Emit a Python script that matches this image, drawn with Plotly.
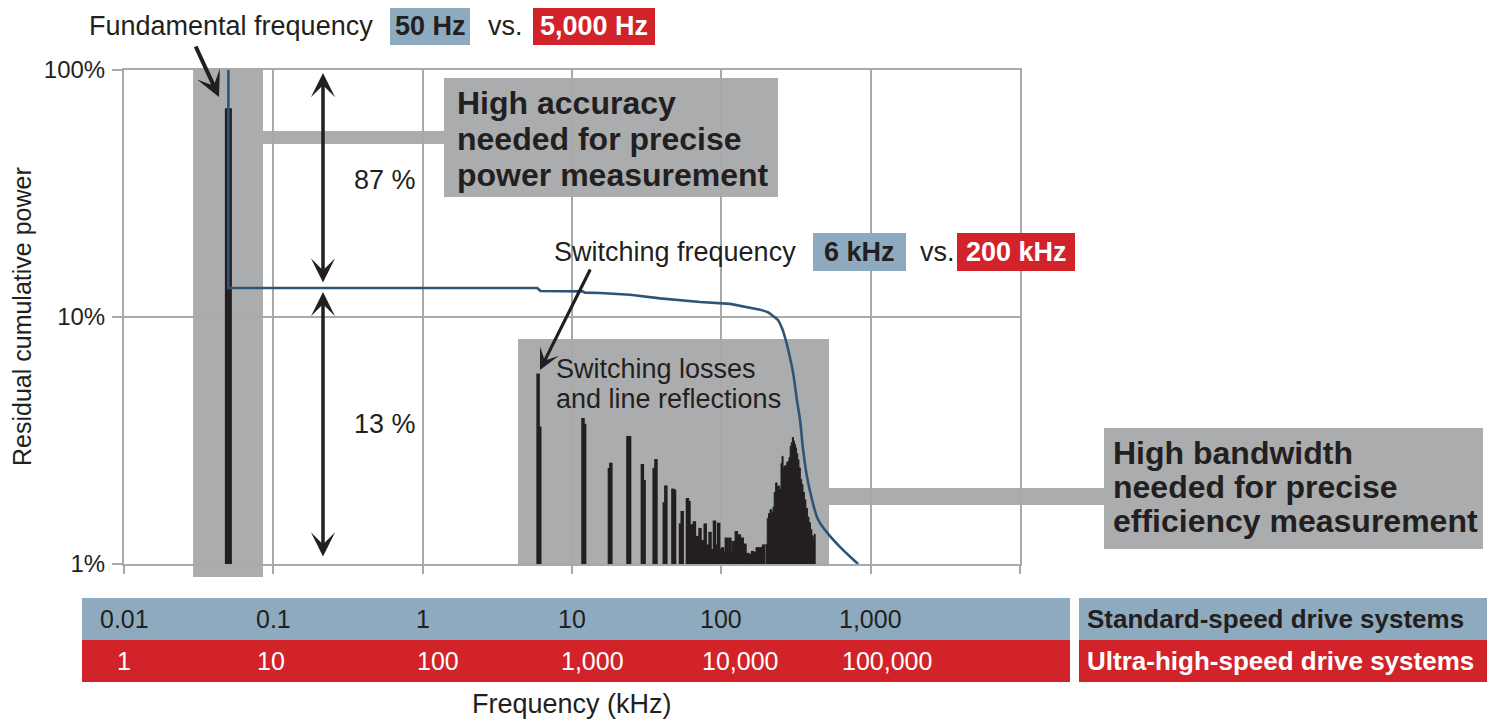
import math
import plotly.graph_objects as go

# ---------------- data ----------------
decades_khz = [0.01, 0.1, 1, 10, 100, 1000, 10000]
std_labels = ["0.01", "0.1", "1", "10", "100", "1,000"]
uhs_labels = ["1", "10", "100", "1,000", "10,000", "100,000"]
y_ticks = [1, 10, 100]
y_tick_labels = ["1%", "10%", "100%"]

fund_freq = [0.05]
fund_pct = [70]

spike_freq = [5.93, 6.08, 11.85, 12.15, 17.8, 18.2, 23.7, 24.3, 29.6, 30.4,
              35.5, 36.5, 41.5, 42.5, 47.4, 48.6, 53.3, 54.7, 59.3, 60.7,
              63, 66, 69, 72, 75, 78, 81, 84, 87, 90, 93, 96, 99, 102, 105,
              108, 111, 114, 117, 120, 123, 126, 129, 132, 135, 138, 141,
              144, 147, 150, 153, 156, 159, 162, 165, 168, 171, 174, 177,
              180, 183, 186, 189, 192]
spike_pct = [5.9, 3.6, 3.9, 3.7, 2.45, 2.57, 3.3, 3.3, 2.54, 2.19,
             2.45, 2.66, 1.78, 2.08, 2.02, 2.0, 1.46, 1.64, 1.85, 1.80,
             1.45, 1.49, 1.3, 1.40, 1.25, 1.46, 1.2, 1.35, 1.15, 1.50,
             1.2, 1.47, 1.15, 1.17, 1.12, 1.28, 1.1, 1.28, 1.12, 1.24,
             1.15, 1.36, 1.2, 1.32, 1.15, 1.28, 1.12, 1.21, 1.1, 1.11,
             1.08, 1.1, 1.07, 1.13, 1.08, 1.12, 1.09, 1.17, 1.1, 1.17,
             1.12, 1.17, 1.1, 1.2]

hump_freq = [198, 203, 207, 212, 217, 222, 226, 231, 236, 241, 246, 251, 255,
             259, 264, 269, 274, 279, 284, 289, 294, 299, 304, 309, 314, 319,
             325, 331, 338, 345, 352, 360, 368, 377, 386, 395, 404, 412, 419, 425]
hump_pct = [1.2, 1.53, 1.6, 1.66, 1.62, 1.7, 1.95, 2.13, 2.05, 2.07,
            2.0, 2.55, 2.73, 2.45, 2.5, 2.47, 2.58, 2.6, 2.7, 3.0,
            3.1, 3.25, 3.15, 3.05, 2.95, 2.8, 2.64, 2.45, 2.2, 2.1,
            1.95, 1.82, 1.68, 1.55, 1.47, 1.38, 1.3, 1.27, 1.32, 1.25]

cum_freq = [0.05, 0.05, 5.85, 6.15, 11.8, 12.2, 15.4, 24.5, 38.9, 72.1, 114.6,
            182, 205, 222, 240, 255, 268, 280, 292, 303, 321, 337, 353, 375,
            405, 445, 511, 625, 729, 824]
cum_pct = [100, 13.1, 13.1, 12.75, 12.7, 12.55, 12.5, 12.3, 11.9, 11.5, 11.3,
           10.7, 10.45, 10.1, 9.7, 9.0, 8.2, 7.4, 6.6, 5.9, 4.6, 3.8, 2.9, 2.25,
           1.82, 1.51, 1.34, 1.17, 1.07, 1.0]
cum_roll_off_start_khz = 182

# ---------------- layout constants (page pixels) ----------------
PAGE_W, PAGE_H = 1496, 719
OFF = 8  # default body margin of the html page
L, R, T, B = 124, 1020, 70, 564
FONT = "Liberation Sans, Arial, Helvetica, sans-serif"
DARK = "#231f20"
GRAY = "#abacae"
GRID = "#a9a9a9"
BLUE_BOX = "#8eaabf"
RED_BOX = "#d2232a"
LINE_BLUE = "#2f5576"
uhs_xshift = [0, -2, 15, 20, 19, 16]
BOLD_BOX = 32


def px(x):
    return (x - L) / (R - L)


def py(y):
    return (B - y) / (B - T)


def fx(f):
    return (math.log10(f) + 2) / 6


def segs(freqs, vals):
    xs, ys = [], []
    for f, v in zip(freqs, vals):
        xs += [f, f, None]
        ys += [1, v, None]
    return xs, ys


fig = go.Figure()

# fundamental bar
xs, ys = segs(fund_freq, fund_pct)
fig.add_trace(go.Scatter(x=xs, y=ys, mode="lines",
                         line=dict(color=DARK, width=7), hoverinfo="skip"))
# switching spikes
xs, ys = segs(spike_freq, spike_pct)
fig.add_trace(go.Scatter(x=xs, y=ys, mode="lines",
                         line=dict(color=DARK, width=3.5), hoverinfo="skip"))
# reflections hump
fig.add_trace(go.Scatter(x=hump_freq + [hump_freq[-1], hump_freq[0]],
                         y=hump_pct + [1, 1], mode="lines", fill="toself",
                         fillcolor=DARK, line=dict(color=DARK, width=1, shape="hv"),
                         hoverinfo="skip"))
# residual cumulative power: flat part (linear) + roll-off (smoothed)
k = cum_freq.index(cum_roll_off_start_khz)
fig.add_trace(go.Scatter(x=cum_freq[:k + 1], y=cum_pct[:k + 1], mode="lines",
                         line=dict(color=LINE_BLUE, width=2.6), hoverinfo="skip"))
fig.add_trace(go.Scatter(x=cum_freq[k:], y=cum_pct[k:], mode="lines",
                         line=dict(color=LINE_BLUE, width=2.6, shape="spline",
                                   smoothing=1.0), hoverinfo="skip"))

shapes = []


def rect(x0, y0, x1, y1, color, layer="above"):
    shapes.append(dict(type="rect", xref="paper", yref="paper",
                       x0=px(x0), x1=px(x1), y0=py(y1), y1=py(y0),
                       fillcolor=color, line=dict(width=0), layer=layer))


# plot-region grey boxes
shapes.append(dict(type="rect", xref="paper", yref="paper",
                   x0=fx(0.029), x1=fx(0.0853), y0=py(577), y1=1,
                   fillcolor=GRAY, line=dict(width=0), layer="between"))
rect(263, 131, 444, 144, GRAY, "between")
rect(444, 78, 778, 197, GRAY, "between")
rect(518, 339, 829, 564, GRAY, "between")
rect(829, 488, 1104, 505, GRAY, "between")
rect(1104, 428, 1483, 549, GRAY, "above")
# header boxes
rect(390, 8, 470, 45, BLUE_BOX)
rect(533, 8, 655, 45, RED_BOX)
rect(813, 233, 906, 271, BLUE_BOX)
rect(957, 233, 1075, 271, RED_BOX)
# bottom bands
rect(82, 598, 1070, 640, BLUE_BOX)
rect(82, 640, 1070, 682, RED_BOX)
rect(1079, 598, 1487, 640, BLUE_BOX)
rect(1079, 640, 1487, 682, RED_BOX)

ann = []


def text(x, y, s, size=27, color=DARK, anchor="left", bold=False, **kw):
    if bold:
        s = "<b>" + s + "</b>"
    d = dict(xref="paper", yref="paper", x=px(x), y=py(y), text=s,
             showarrow=False, xanchor=anchor, yanchor="middle",
             font=dict(family=FONT, size=size, color=color))
    d.update(kw)
    ann.append(d)


text(87, 26, "Fundamental frequency")
text(430, 26, "50 Hz", anchor="center", bold=True)
text(486, 26, "vs.")
text(594, 26, "5,000 Hz", color="white", anchor="center", bold=True)

text(552, 252, "Switching frequency")
text(859.5, 252, "6 kHz", anchor="center", bold=True)
text(918, 252, "vs.")
text(1016, 252, "200 kHz", color="white", anchor="center", bold=True)

text(385, 180, "87 %", anchor="center")
text(385, 424, "13 %", anchor="center")

for i, s in enumerate(["High accuracy", "needed for precise", "power measurement"]):
    text(455, 103 + 36 * i, s, size=BOLD_BOX, bold=True)
for i, s in enumerate(["High bandwidth", "needed for precise", "efficiency measurement"]):
    text(1111, 453 + 34 * i, s, size=BOLD_BOX, bold=True)
for i, s in enumerate(["Switching losses", "and line reflections"]):
    text(554, 369 + 30 * i, s)

for d, s in zip(decades_khz, std_labels):
    ann.append(dict(xref="paper", yref="paper", x=fx(d), y=py(619), text=s,
                    showarrow=False, xanchor="center", yanchor="middle",
                    font=dict(family=FONT, size=25, color=DARK)))
for d, s, sh in zip(decades_khz, uhs_labels, uhs_xshift):
    ann.append(dict(xref="paper", yref="paper", x=fx(d), y=py(661), text=s,
                    showarrow=False, xanchor="center", yanchor="middle", xshift=sh,
                    font=dict(family=FONT, size=25, color="white")))
text(1085, 619, "Standard-speed drive systems", size=26, bold=True)
text(1085, 661, "Ultra-high-speed drive systems", size=26, color="white", bold=True)

text(572, 704, "Frequency (kHz)", anchor="center")
text(22, 317, "Residual cumulative power", size=25, anchor="center", textangle=-90)


def arrow(hx, hy, tx, ty, both=False, width=3.5, size=1.15):
    ann.append(dict(xref="paper", yref="paper", x=px(hx), y=py(hy), text="",
                    showarrow=True, ax=tx - hx, ay=ty - hy, arrowhead=3,
                    startarrowhead=3, arrowsize=size, startarrowsize=size,
                    arrowwidth=width, arrowcolor=DARK,
                    arrowside="end+start" if both else "end"))


arrow(219, 97, 195, 45, width=4, size=1.05)
arrow(540, 370, 591, 268, width=3.2, size=1.1)
arrow(323, 73, 323, 284, both=True)
arrow(323, 292, 323, 558, both=True)

axis_common = dict(showgrid=True, gridcolor=GRID, gridwidth=1.5, zeroline=False,
                   showline=True, linecolor=GRID, linewidth=2, mirror=True,
                   ticks="outside", tickcolor=GRID, tickwidth=1.5)

fig.update_layout(
    width=PAGE_W - OFF, height=PAGE_H - OFF,
    margin=dict(l=L - OFF, r=PAGE_W - R, t=T - OFF, b=PAGE_H - B, pad=0),
    paper_bgcolor="white", plot_bgcolor="white",
    showlegend=False,
    xaxis=dict(type="log", range=[-2, 4], tickvals=decades_khz,
               showticklabels=False, ticklen=8, **axis_common),
    yaxis=dict(type="log", range=[0, 2], tickvals=y_ticks, ticktext=y_tick_labels,
               ticklen=10, ticklabelstandoff=2,
               tickfont=dict(family=FONT, size=24, color=DARK), **axis_common),
    shapes=shapes,
    annotations=ann,
)

fig.write_html("out.html")
